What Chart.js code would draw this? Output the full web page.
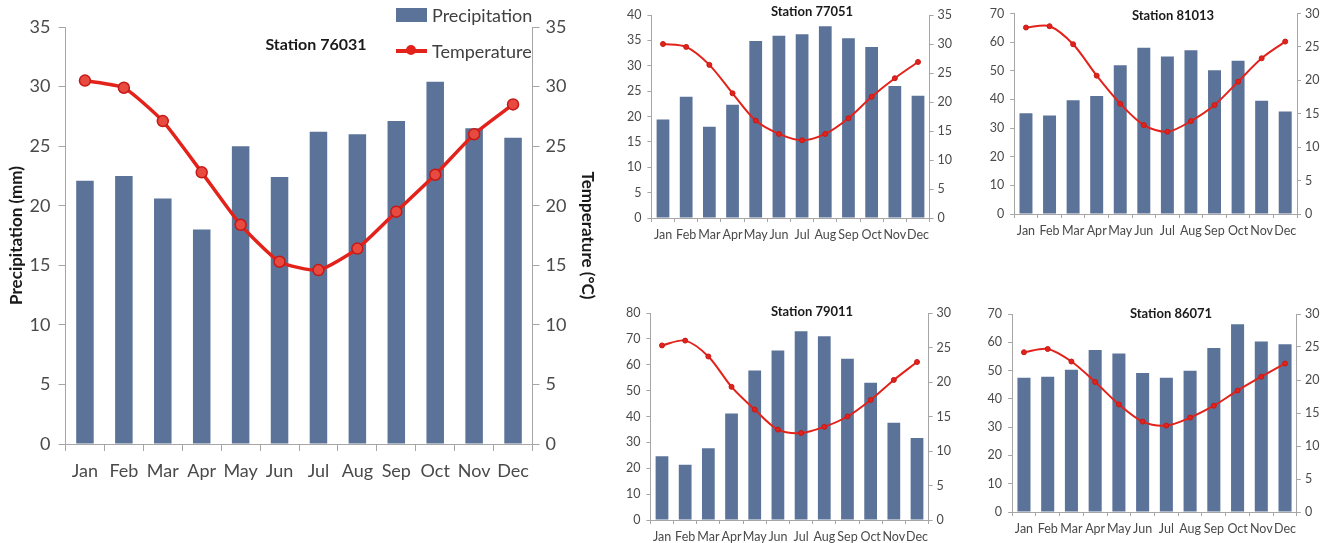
<!DOCTYPE html>
<html><head><meta charset="utf-8">
<script src="https://cdn.jsdelivr.net/npm/chart.js@4.4.0/dist/chart.umd.min.js"></script>
<style>
html,body{margin:0;padding:0;background:#fff;width:1327px;height:543px;overflow:hidden;position:relative;font-family:Lato,"Open Sans",sans-serif}
canvas{position:absolute}
.ttl{position:absolute;font-weight:bold;color:#1a1a1a;transform:translate(-50%,-50%);white-space:nowrap}
.lg{position:absolute;font-size:18px;color:#404040;transform:translateY(-50%);white-space:nowrap}
.sw{position:absolute}
</style></head><body>
<canvas id="c1" width="600" height="500" style="left:0;top:0"></canvas>
<canvas id="c2" width="370" height="260" style="left:600px;top:0"></canvas>
<canvas id="c3" width="367" height="260" style="left:960px;top:0"></canvas>
<canvas id="c4" width="370" height="253" style="left:600px;top:290px"></canvas>
<canvas id="c5" width="367" height="253" style="left:960px;top:290px"></canvas>

<div class="ttl" style="left:316px;top:43px;font-size:16px">Station 76031</div>
<div class="ttl" style="left:812px;top:11px;font-size:13px">Station 77051</div>
<div class="ttl" style="left:1173px;top:15px;font-size:13px">Station 81013</div>
<div class="ttl" style="left:812px;top:311px;font-size:13px">Station 79011</div>
<div class="ttl" style="left:1171px;top:313px;font-size:13px">Station 86071</div>

<div class="sw" style="left:396px;top:8px;width:31px;height:14px;background:#5b7399"></div>
<div class="lg" style="left:432px;top:15px">Precipitation</div>
<div class="sw" style="left:396px;top:49px;width:31px;height:4px;background:#e3231b"></div>
<div class="sw" style="left:406px;top:45px;width:10px;height:10px;border-radius:50%;background:#e3231b"></div>
<div class="lg" style="left:432px;top:51px">Temperature</div>

<script>
const months = ['Jan','Feb','Mar','Apr','May','Jun','Jul','Aug','Sep','Oct','Nov','Dec'];

const prec76031 = [22.1, 22.5, 20.6, 18.0, 25.0, 22.4, 26.2, 26.0, 27.1, 30.4, 26.5, 25.7];
const temp76031 = [30.5, 29.9, 27.1, 22.8, 18.4, 15.3, 14.6, 16.4, 19.5, 22.6, 26.0, 28.5];

const prec77051 = [19.4, 23.9, 18.0, 22.3, 34.9, 35.9, 36.2, 37.8, 35.4, 33.7, 26.0, 24.1];
const temp77051 = [30.0, 29.5, 26.4, 21.5, 16.8, 14.5, 13.4, 14.5, 17.2, 20.9, 24.1, 26.9];

const prec81013 = [35.2, 34.4, 39.7, 41.2, 51.9, 58.0, 55.0, 57.2, 50.2, 53.5, 39.5, 35.8];
const temp81013 = [27.9, 28.1, 25.4, 20.7, 16.5, 13.3, 12.3, 13.9, 16.3, 19.8, 23.3, 25.8];

const prec79011 = [24.6, 21.4, 27.7, 41.2, 57.8, 65.5, 72.9, 71.0, 62.3, 53.0, 37.6, 31.7];
const temp79011 = [25.3, 26.0, 23.7, 19.3, 16.0, 13.1, 12.6, 13.5, 15.0, 17.4, 20.3, 22.9];

const prec86071 = [47.5, 47.8, 50.3, 57.3, 56.0, 49.1, 47.5, 49.9, 58.0, 66.4, 60.3, 59.3];
const temp86071 = [24.2, 24.7, 22.8, 19.7, 16.3, 13.7, 13.1, 14.3, 16.1, 18.4, 20.5, 22.5];

const BAR = '#5b7399', RED = '#e3231b', AXIS = '#a6a6a6', TXT = '#4a4a4a';
Chart.defaults.font.family = 'Lato, "Open Sans", sans-serif';
Chart.defaults.color = TXT;

function build(id, prec, temp, o) {
  const grid = {drawOnChartArea:false, drawTicks:true, tickLength:o.tickLen, color:AXIS, lineWidth:1};
  const border = {display:true, color:AXIS, width:1};
  new Chart(document.getElementById(id), {
    type:'bar',
    data:{labels:months, datasets:[
      {type:'line', label:'Temperature', data:temp, yAxisID:'y1', order:0,
       borderColor:RED, backgroundColor:o.pointFill, borderWidth:o.lw, tension:o.tension,
       pointRadius:o.pr, pointBackgroundColor:o.pointFill, pointBorderColor:'#c41a17', pointBorderWidth:o.pbw},
      {type:'bar', label:'Precipitation', data:prec, yAxisID:'y', order:1,
       backgroundColor:BAR, barPercentage:o.bp, categoryPercentage:1}
    ]},
    options:{
      responsive:false, animation:false, devicePixelRatio:1,
      layout:{padding:{top:o.padTop, left:0, right:0, bottom:0}},
      plugins:{legend:{display:false}, tooltip:{enabled:false}, title:{display:false}},
      scales:{
        x:{offset:true, grid:Object.assign({offset:true}, grid), border:border,
           ticks:{font:{size:o.fs}, padding:o.xPad, maxRotation:0, autoSkip:false},
           afterFit:s=>{s.height=o.xH;}},
        y:{position:'left', min:0, max:o.yMax, grid:grid, border:border,
           ticks:{stepSize:o.yStep, font:{size:o.fs}, padding:o.yPad},
           title:o.yTitle ? {display:true, text:o.yTitle, font:{size:17, weight:'bold'}, color:'#1a1a1a', padding:{top:6,bottom:0}} : {display:false},
           afterFit:s=>{s.width=o.leftW;}},
        y1:{position:'right', min:0, max:o.y1Max, grid:grid, border:border,
           ticks:{stepSize:5, font:{size:o.fs}, padding:o.y1Pad},
           title:o.y1Title ? {display:true, text:o.y1Title, font:{size:17, weight:'bold'}, color:'#1a1a1a', padding:{top:2,bottom:0}} : {display:false},
           afterFit:s=>{s.width=o.rightW;}}
      }
    }
  });
}

const small = {fs:12.5, lw:2, pr:2.5, pbw:1, pointFill:'#e3231b', bp:0.55, tickLen:4, xPad:5, yPad:6, y1Pad:4, tension:0.3};

build('c1', prec76031, temp76031, {fs:18, lw:3.5, pr:5.5, pbw:1.5, pointFill:'#e84a3f', bp:0.45, tension:0.18,
  tickLen:7, xPad:9, yPad:8, y1Pad:6, padTop:27, xH:56, leftW:65.5, rightW:67.5,
  yMax:35, yStep:5, y1Max:35, yTitle:'Precipitation (mm)', y1Title:'Temperature (°C)'});

build('c2', prec77051, temp77051, Object.assign({}, small, {padTop:15, xH:42, leftW:51.4, rightW:40.4, yMax:40, yStep:5, y1Max:35}));
build('c3', prec81013, temp81013, Object.assign({}, small, {padTop:12, xH:46, leftW:54.2, rightW:30, yMax:70, yStep:10, y1Max:30}));
build('c4', prec79011, temp79011, Object.assign({}, small, {padTop:23, xH:23, leftW:50.4, rightW:41.4, yMax:80, yStep:10, y1Max:30}));
build('c5', prec86071, temp86071, Object.assign({}, small, {padTop:24, xH:31, leftW:52.1, rightW:30.1, yMax:70, yStep:10, y1Max:30}));
</script>
</body></html>
